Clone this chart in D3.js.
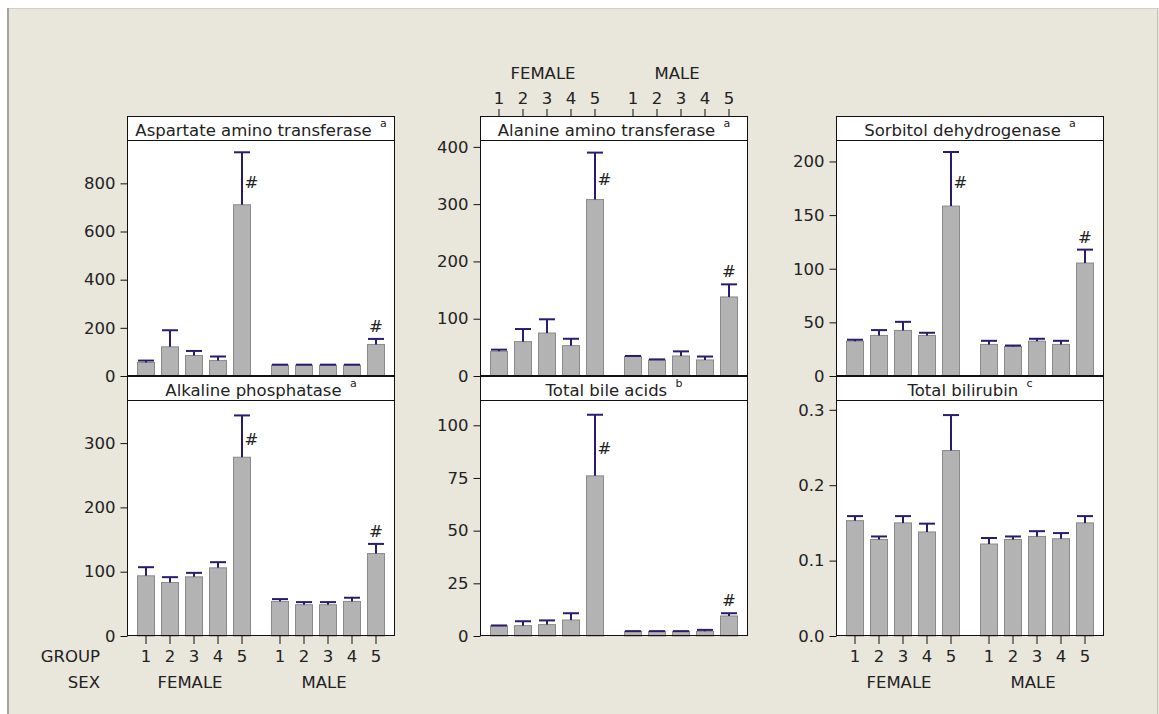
<!DOCTYPE html>
<html>
<head>
<meta charset="utf-8">
<script src="https://cdn.jsdelivr.net/npm/d3@7"></script>
<style>
  html, body { margin: 0; padding: 0; background: #ffffff; }
  svg { display: block; }
  text { font-family: "DejaVu Sans", Verdana, sans-serif; fill: #222; }
</style>
</head>
<body>
<svg id="chart" width="1159" height="714"></svg>
<script>
// ---- categories ----
const sexes = ["FEMALE", "MALE"];
const groups = ["1", "2", "3", "4", "5"];

// ---- series: means and standard errors, FEMALE 1-5 then MALE 1-5 ----
const astMean = [56, 121, 85, 64, 711, 45, 45, 45, 45, 131];
const astSE   = [8, 69, 19, 17, 218, 2, 2, 2, 2, 23];

const altMean = [43, 60, 75, 53, 308, 34, 28, 35, 28, 138];
const altSE   = [3, 22, 24, 12, 82, 1, 1, 8, 6, 22];

const sdhMean = [32.5, 37.8, 42.5, 37.8, 158.4, 29.4, 27.5, 32.5, 29.4, 105.3];
const sdhSE   = [1.3, 5, 8, 2.5, 50.4, 3.4, 0.9, 2.2, 3.4, 12.5];

const alpMean = [93.6, 83.2, 92, 106, 278, 53.8, 48.6, 48.6, 53.8, 128.2];
const alpSE   = [13.4, 8.3, 6.2, 8.8, 65, 3.6, 4.1, 4.1, 5.7, 15];

const tbaMean = [4.8, 4.9, 5.4, 7.6, 76, 2.2, 2.2, 2.2, 2.2, 9.5];
const tbaSE   = [0.2, 2.1, 2.0, 3.2, 29, 0.1, 0.1, 0.1, 0.7, 1.3];

const tbilMean = [0.153, 0.128, 0.150, 0.138, 0.246, 0.122, 0.128, 0.132, 0.129, 0.150];
const tbilSE   = [0.006, 0.004, 0.009, 0.011, 0.047, 0.008, 0.004, 0.007, 0.0075, 0.009];

// ---- panel titles, footnote letters, axis ticks ----
const titles = ["Aspartate amino transferase", "Alanine amino transferase", "Sorbitol dehydrogenase",
                "Alkaline phosphatase", "Total bile acids", "Total bilirubin"];
const notes = ["a", "a", "a", "a", "b", "c"];
const astTicks = [0, 200, 400, 600, 800];
const altTicks = [0, 100, 200, 300, 400];
const sdhTicks = [0, 50, 100, 150, 200];
const alpTicks = [0, 100, 200, 300];
const tbaTicks = [0, 25, 50, 75, 100];
const tbilTicks = [0.0, 0.1, 0.2, 0.3];
const yMax = [980, 412, 220, 367, 112, 0.313];

// bars flagged as significantly different from control
const sigFlags = [
  [["FEMALE", "5"], ["MALE", "5"]],
  [["FEMALE", "5"], ["MALE", "5"]],
  [["FEMALE", "5"], ["MALE", "5"]],
  [["FEMALE", "5"], ["MALE", "5"]],
  [["FEMALE", "5"], ["MALE", "5"]],
  []
];

// ---- build panel records ----
function rows(mean, se) {
  return mean.map((m, i) => ({
    sex: sexes[Math.floor(i / groups.length)],
    group: groups[i % groups.length],
    mean: m,
    se: se[i]
  }));
}
const panels = [
  { data: rows(astMean, astSE), ticks: astTicks, fmt: d3.format("d") },
  { data: rows(altMean, altSE), ticks: altTicks, fmt: d3.format("d") },
  { data: rows(sdhMean, sdhSE), ticks: sdhTicks, fmt: d3.format("d") },
  { data: rows(alpMean, alpSE), ticks: alpTicks, fmt: d3.format("d") },
  { data: rows(tbaMean, tbaSE), ticks: tbaTicks, fmt: d3.format("d") },
  { data: rows(tbilMean, tbilSE), ticks: tbilTicks, fmt: d3.format(".1f") }
].map((p, i) => Object.assign(p, { title: titles[i], note: notes[i], max: yMax[i], sig: sigFlags[i], idx: i }));

// ---- layout ----
const svg = d3.select("#chart");
const FONT = 16.5;
const colX = [127, 480, 836];
const panelW = 268;
const stripH = 24;
const plotH = 236;
const rowTop = [116, 376];
const barFill = "#b3b3b3", barStroke = "#8a8a8a", errColor = "#2b1a6e";

// backdrop
svg.append("rect").attr("width", 1159).attr("height", 714).attr("fill", "#ffffff");
svg.append("rect").attr("x", 8).attr("y", 8).attr("width", 1151).attr("height", 706).attr("fill", "#e9e6dc");
svg.append("line").attr("x1", 8).attr("x2", 1159).attr("y1", 8.5).attr("y2", 8.5).attr("stroke", "#cfcfcf");
svg.append("line").attr("x1", 8).attr("x2", 8).attr("y1", 8).attr("y2", 714).attr("stroke", "#a3a3a3").attr("stroke-width", 2);
svg.append("line").attr("x1", 1157.5).attr("x2", 1157.5).attr("y1", 8).attr("y2", 714).attr("stroke", "#c4c4c4");

// x scales shared by every panel
const x0 = d3.scaleBand().domain(sexes).range([0, panelW]).paddingInner(14 / 134).paddingOuter(7 / 134);
const x1 = d3.scaleBand().domain(groups).range([0, x0.bandwidth()]).paddingInner(0.25).paddingOuter(0.125);
const cx = d => x0(d.sex) + x1(d.group) + x1.bandwidth() / 2;

function styleAxis(g) {
  g.select(".domain").remove();
  g.selectAll(".tick line").attr("stroke", "#111");
  g.selectAll(".tick text").attr("font-size", FONT).attr("fill", "#222")
    .style("font-family", "'DejaVu Sans', Verdana, sans-serif");
}

panels.forEach(p => {
  const col = p.idx % 3, row = Math.floor(p.idx / 3);
  const left = colX[col];
  const top = rowTop[row];
  const plotTop = top + stripH, plotBottom = plotTop + plotH;
  const g = svg.append("g").attr("transform", `translate(${left},0)`);

  const y = d3.scaleLinear().domain([0, p.max]).range([plotBottom, plotTop]);

  // strip and plot background
  g.append("rect").attr("x", 0).attr("y", top).attr("width", panelW).attr("height", stripH + plotH).attr("fill", "#ffffff");

  // strip title with footnote letter
  const t = g.append("text").attr("x", panelW / 2).attr("y", top + stripH - 4)
    .attr("text-anchor", "middle").attr("font-size", FONT);
  t.append("tspan").text(p.title + " ");
  t.append("tspan").attr("font-size", 11).attr("dx", 3).attr("dy", -9).text(p.note);

  // bars
  g.selectAll("rect.bar").data(p.data).join("rect").attr("class", "bar")
    .attr("x", d => x0(d.sex) + x1(d.group) + 0.5)
    .attr("width", x1.bandwidth() - 1)
    .attr("y", d => y(d.mean))
    .attr("height", d => y(0) - y(d.mean))
    .attr("fill", barFill).attr("stroke", barStroke).attr("stroke-width", 1);

  // error bars (upper only)
  const eb = g.selectAll("g.err").data(p.data).join("g").attr("class", "err")
    .attr("stroke", errColor).attr("stroke-width", 2);
  eb.append("line")
    .attr("x1", cx).attr("x2", cx)
    .attr("y1", d => y(d.mean)).attr("y2", d => y(d.mean + d.se));
  eb.append("line")
    .attr("x1", d => cx(d) - 8).attr("x2", d => cx(d) + 8)
    .attr("y1", d => y(d.mean + d.se)).attr("y2", d => y(d.mean + d.se));

  // significance marks
  p.sig.forEach(([s, gr]) => {
    const d = p.data.find(r => r.sex === s && r.group === gr);
    const yTop = y(d.mean + d.se), yBar = y(d.mean);
    const txt = g.append("text").attr("font-size", FONT).text("#");
    if (yBar - yTop > 30) {
      txt.attr("x", cx(d) + 2.5).attr("y", (yTop + yBar) / 2 + 9).attr("text-anchor", "start");
    } else {
      txt.attr("x", cx(d)).attr("y", yTop - 7).attr("text-anchor", "middle");
    }
  });

  // panel frame and strip divider
  g.append("rect").attr("x", 0.5).attr("y", top + 0.5).attr("width", panelW - 1).attr("height", stripH + plotH - 1)
    .attr("fill", "none").attr("stroke", "#111");
  g.append("line").attr("x1", 0).attr("x2", panelW).attr("y1", plotTop + 0.5).attr("y2", plotTop + 0.5).attr("stroke", "#111");

  // y axis
  g.append("g").attr("transform", "translate(0.5,0)")
    .call(d3.axisLeft(y).tickValues(p.ticks).tickFormat(p.fmt).tickSize(7).tickPadding(5))
    .call(styleAxis);

  // bottom x axis on the lower-left and lower-right panels
  if (row === 1 && col !== 1) {
    sexes.forEach(s => {
      const ax = g.append("g").attr("transform", `translate(${x0(s)},${plotBottom})`)
        .call(d3.axisBottom(x1).tickSize(8).tickPadding(6.5))
        .call(styleAxis);
      g.append("text").attr("x", x0(s) + x0.bandwidth() / 2 - 4).attr("y", plotBottom + 52)
        .attr("text-anchor", "middle").attr("font-size", FONT).text(s);
    });
  }
  // top x axis over the upper-middle panel
  if (row === 0 && col === 1) {
    sexes.forEach(s => {
      g.append("g").attr("transform", `translate(${x0(s)},${top})`)
        .call(d3.axisTop(x1).tickSize(7).tickPadding(5))
        .call(styleAxis);
      g.append("text").attr("x", x0(s) + x0.bandwidth() / 2 - 4).attr("y", top - 37)
        .attr("text-anchor", "middle").attr("font-size", FONT).text(s);
    });
  }
});

// row labels for the bottom axis
svg.append("text").attr("x", 100).attr("y", 662).attr("text-anchor", "end").attr("font-size", FONT).text("GROUP");
svg.append("text").attr("x", 100).attr("y", 688).attr("text-anchor", "end").attr("font-size", FONT).text("SEX");
</script>
</body>
</html>
